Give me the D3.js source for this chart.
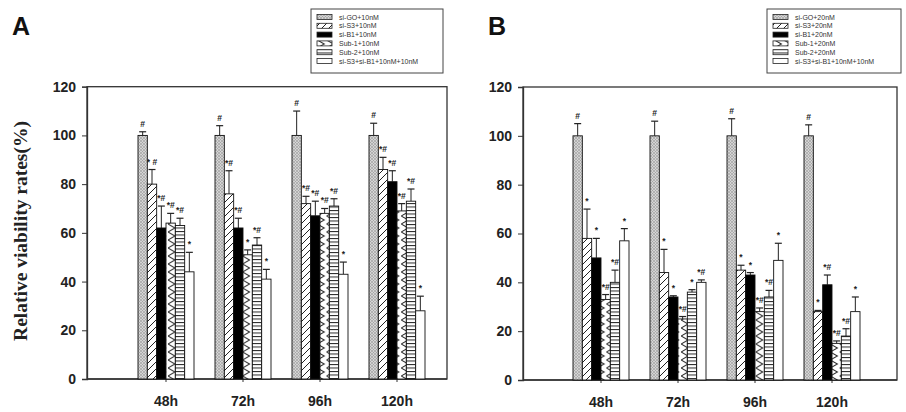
<!DOCTYPE html>
<html>
<head>
<meta charset="utf-8">
<script src="https://cdn.jsdelivr.net/npm/d3@7/dist/d3.min.js"></script>
<style>
  html, body { margin: 0; padding: 0; background: #fff; }
  svg { display: block; }
</style>
</head>
<body>
<svg id="chart" width="906" height="412"></svg>
<script>
// Time points and y-axis ticks shared by both panels
const groups = ["48h", "72h", "96h", "120h"];
const yTicks = [0, 20, 40, 60, 80, 100, 120];

// Panel A: 10 nM treatments (mean viability % per time point)
const seriesA = ["si-GO+10nM", "si-S3+10nM", "si-B1+10nM", "Sub-1+10nM", "Sub-2+10nM", "si-S3+si-B1+10nM+10nM"];
const siGO_A  = [100, 100, 100, 100];
const siS3_A  = [80, 76, 72, 86];
const siB1_A  = [62, 62, 67, 81];
const sub1_A  = [64, 51, 68, 69];
const sub2_A  = [63, 55, 71, 73];
const combo_A = [44, 41, 43, 28];
const errA = [
  [1.5, 4, 10, 5],
  [6, 9.5, 3, 5],
  [9, 4, 6, 4.5],
  [4, 2, 2, 3],
  [3, 3, 3, 5],
  [8, 4, 5, 6]
];
const marksA = [
  ["#", "#", "#", "#"],
  ["* #", "*#", "*#", "*#"],
  ["*#", "*#", "*#", "*#"],
  ["*#", "*", "*#", "*#"],
  ["*#", "*#", "*#", "*#"],
  ["*", "*", "*", "*"]
];

// Panel B: 20 nM treatments
const seriesB = ["si-GO+20nM", "si-S3+20nM", "si-B1+20nM", "Sub-1+20nM", "Sub-2+20nM", "si-S3+si-B1+10nM+10nM"];
const siGO_B  = [100, 100, 100, 100];
const siS3_B  = [58, 44, 45, 28];
const siB1_B  = [50, 34, 43, 39];
const sub1_B  = [33, 25, 28, 15];
const sub2_B  = [40, 36, 34, 18];
const combo_B = [57, 40, 49, 28];
const errB = [
  [5, 6, 7, 4.5],
  [12, 9.5, 2, 0.5],
  [8, 0.5, 1, 4],
  [2, 1, 1.5, 1],
  [5, 1, 2.7, 3],
  [5, 1, 7, 6]
];
const marksB = [
  ["#", "#", "#", "#"],
  ["*", "*", "*", "*"],
  ["*", "*", "*", "*#"],
  ["*#", "*#", "*#", "*#"],
  ["*#", "*", "*#", "*#"],
  ["*", "*#", "*", "*"]
];

const svg = d3.select("#chart");
const defs = svg.append("defs");

// Fill patterns for the six treatments
function makePatterns() {
  // fine gray crosshatch
  const p0 = defs.append("pattern").attr("id", "pat0").attr("patternUnits", "userSpaceOnUse")
    .attr("width", 3).attr("height", 3);
  p0.append("rect").attr("width", 3).attr("height", 3).attr("fill", "#d4d4d4");
  p0.append("path").attr("d", "M0,0 L3,3 M3,0 L0,3").attr("stroke", "#9a9a9a").attr("stroke-width", 0.6);

  // forward diagonal
  const p1 = defs.append("pattern").attr("id", "pat1").attr("patternUnits", "userSpaceOnUse")
    .attr("width", 7).attr("height", 7);
  p1.append("rect").attr("width", 7).attr("height", 7).attr("fill", "#fff");
  p1.append("path").attr("d", "M-1,8 L8,-1 M-1,1 L1,-1 M6,8 L8,6").attr("stroke", "#222").attr("stroke-width", 1);

  // chevrons
  const p3 = defs.append("pattern").attr("id", "pat3").attr("patternUnits", "userSpaceOnUse")
    .attr("width", 9.33).attr("height", 8);
  p3.append("rect").attr("width", 9.33).attr("height", 8).attr("fill", "#fff");
  p3.append("path").attr("d", "M0,0 L7,4 L0,8").attr("fill", "none").attr("stroke", "#222").attr("stroke-width", 1);

  // horizontal lines
  const p4 = defs.append("pattern").attr("id", "pat4").attr("patternUnits", "userSpaceOnUse")
    .attr("width", 6).attr("height", 3.5);
  p4.append("rect").attr("width", 6).attr("height", 3.5).attr("fill", "#fff");
  p4.append("path").attr("d", "M0,0.5 L6,0.5").attr("stroke", "#222").attr("stroke-width", 1);
}
makePatterns();
const fills = ["url(#pat0)", "url(#pat1)", "#000", "url(#pat3)", "url(#pat4)", "#fff"];

function drawPanel(cfg) {
  const g = svg.append("g");
  const y = d3.scaleLinear().domain([0, 120]).range([cfg.y0, cfg.y120]);
  const x0 = d3.scaleBand().domain(groups).range(cfg.groupRange).paddingInner(0).paddingOuter(0);
  const x1 = d3.scaleBand().domain(d3.range(6)).range([-28, 28]);

  // frame
  g.append("rect")
    .attr("x", cfg.left).attr("y", y(120))
    .attr("width", cfg.right - cfg.left).attr("height", y(0) - y(120))
    .attr("fill", "none").attr("stroke", "#333").attr("stroke-width", 1.3);

  // y axis
  const yAxis = d3.axisLeft(y).tickValues(yTicks).tickSize(5).tickPadding(6);
  const ya = g.append("g").attr("transform", `translate(${cfg.left},0)`).call(yAxis);
  ya.select(".domain").attr("stroke", "#333").attr("stroke-width", 1.3);
  ya.selectAll(".tick line").attr("stroke", "#333");
  ya.selectAll("text").attr("font-family", "Liberation Sans, Arial, sans-serif")
    .attr("font-weight", "bold").attr("font-size", 14).attr("fill", "#222");

  // x axis
  const xa = g.append("g").attr("transform", `translate(0,${y(0)})`)
    .call(d3.axisBottom(x0).tickSize(3).tickPadding(14).tickSizeOuter(0));
  xa.select(".domain").attr("stroke", "#333").attr("stroke-width", 1.3)
    .attr("d", `M${cfg.left},0H${cfg.right}`);
  xa.selectAll(".tick line").attr("stroke", "#333");
  xa.selectAll("text").attr("font-family", "Liberation Sans, Arial, sans-serif")
    .attr("font-weight", "bold").attr("font-size", 14).attr("fill", "#222");

  // bars, error bars, significance marks
  cfg.values.forEach((vals, si) => {
    const sg = g.append("g");
    groups.forEach((grp, gi) => {
      const cx = x0(grp) + x0.bandwidth() / 2;
      const bx = cx + x1(si);
      const bw = x1.bandwidth();
      const v = vals[gi];
      const e = cfg.err[si][gi];
      const mid = bx + bw / 2;
      sg.append("line").attr("x1", mid).attr("x2", mid).attr("y1", y(v)).attr("y2", y(v + e))
        .attr("stroke", "#222").attr("stroke-width", 1);
      sg.append("line").attr("x1", mid - 3.5).attr("x2", mid + 3.5).attr("y1", y(v + e)).attr("y2", y(v + e))
        .attr("stroke", "#222").attr("stroke-width", 1.2);
      sg.append("rect").attr("x", bx).attr("y", y(v)).attr("width", bw).attr("height", y(0) - y(v))
        .attr("fill", fills[si]).attr("stroke", "#111").attr("stroke-width", 0.9);
      sg.append("text").attr("x", mid).attr("y", y(v + e) - 5)
        .attr("text-anchor", "middle").attr("font-family", "Liberation Sans, Arial, sans-serif")
        .attr("font-size", 8.5).attr("font-weight", "bold").attr("fill", "#222")
        .text(cfg.marks[si][gi]);
    });
  });

  // panel letter
  g.append("text").attr("x", cfg.letterX).attr("y", 35)
    .attr("font-family", "Liberation Sans, Arial, sans-serif").attr("font-weight", "bold")
    .attr("font-size", 25).attr("fill", "#111").text(cfg.letter);

  // legend
  const lg = g.append("g");
  lg.append("rect").attr("x", cfg.legX).attr("y", 9).attr("width", cfg.legW).attr("height", 64)
    .attr("fill", "#fff").attr("stroke", "#444").attr("stroke-width", 1);
  cfg.names.forEach((n, i) => {
    const ry = 17 + i * 8.8;
    lg.append("rect").attr("x", cfg.legX + 6).attr("y", ry - 2.5).attr("width", 15).attr("height", 5)
      .attr("fill", fills[i]).attr("stroke", "#222").attr("stroke-width", 0.8);
    lg.append("text").attr("x", cfg.legX + 28).attr("y", ry + 2.5)
      .attr("font-family", "Liberation Sans, Arial, sans-serif").attr("font-size", 7)
      .attr("fill", "#333").text(n);
  });
}

drawPanel({
  letter: "A", letterX: 12,
  left: 87, right: 447, y0: 379, y120: 86.7,
  groupRange: [127.5, 435.5],
  values: [siGO_A, siS3_A, siB1_A, sub1_A, sub2_A, combo_A],
  err: errA, marks: marksA, names: seriesA,
  legX: 311, legW: 132
});

drawPanel({
  letter: "B", letterX: 488,
  left: 523, right: 897, y0: 380, y120: 87,
  groupRange: [562.5, 870.5],
  values: [siGO_B, siS3_B, siB1_B, sub1_B, sub2_B, combo_B],
  err: errB, marks: marksB, names: seriesB,
  legX: 767, legW: 134
});

// y-axis title (left panel)
svg.append("text")
  .attr("transform", "translate(27,231) rotate(-90)")
  .attr("text-anchor", "middle")
  .attr("font-family", "Liberation Serif, Times New Roman, serif")
  .attr("font-weight", "bold").attr("font-size", 19.5).attr("fill", "#222")
  .text("Relative viability rates(%)");
</script>
</body>
</html>
